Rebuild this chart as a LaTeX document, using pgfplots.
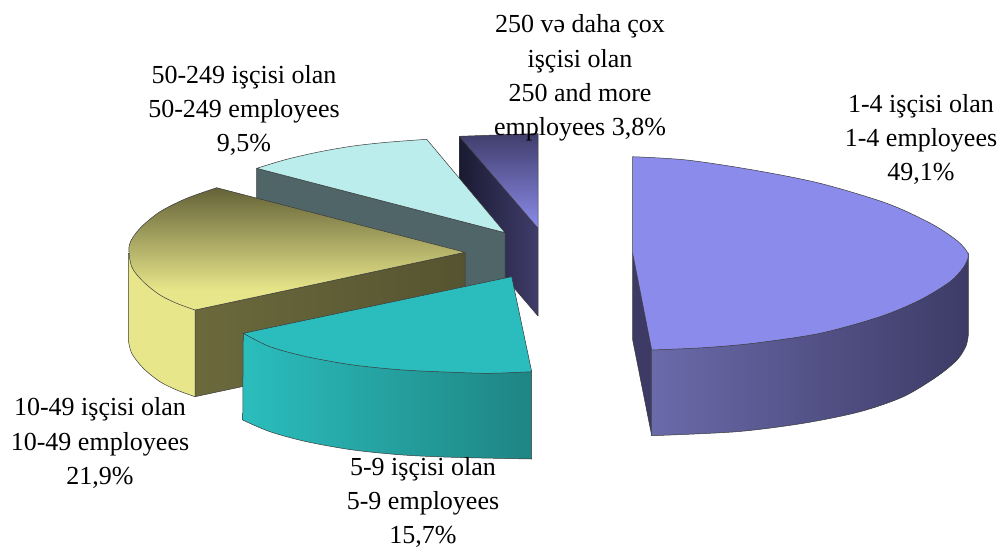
\documentclass[border=0pt]{standalone}
\usepackage{pgfplots}
\pgfplotsset{compat=1.18}
\usepackage{fontspec}
\setmainfont{Liberation Serif}
\definecolor{edge}{HTML}{3A3A3A}
\definecolor{oliveY}{RGB}{232,230,138}
\definecolor{oliveD}{RGB}{100,98,55}
\pgfdeclareverticalshading{olivetop}{100bp}{%
  color(0bp)=(oliveY);
  color(25bp)=(oliveY);
  color(33bp)=(oliveY);
  color(75bp)=(oliveD);
  color(100bp)=(oliveD)}
\begin{document}
\begin{tikzpicture}
\begin{axis}[
  at={(0pt,0pt)}, anchor=south west,
  scale only axis, width=1002pt, height=550pt,
  xmin=0, xmax=1002, ymin=0, ymax=550, y dir=reverse,
  hide axis, clip=false,
  every axis plot/.append style={draw=edge, line width=0.5pt, mark=none, line join=round},
]
% 250+ slice
\addplot[left color={rgb,255:red,26;green,26;blue,50}, right color={rgb,255:red,64;green,61;blue,107}]
  coordinates {(459.3,136.3)(538,228.3)(538,316)(459.3,224)} -- cycle;
\addplot[top color={rgb,255:red,64;green,61;blue,107}, bottom color={rgb,255:red,140;green,140;blue,235}]
  coordinates {(459.3,136.3)(538,133.5)(538,228.3)} -- cycle;
% 50-249 slice
\addplot[fill={rgb,255:red,79;green,101;blue,104}]
  coordinates {(256.7,168.3)(505,232.7)(505,320)(256.7,256)} -- cycle;
\addplot[smooth, fill={rgb,255:red,186;green,237;blue,235}]
  coordinates {(256.7,168.3)(286.7,159.3)(320,151.7)(353.3,146)(386.7,142.3)(426.7,139.3)} -- (axis cs:505,232.7) -- cycle;
% 10-49 slice
\addplot[left color={rgb,255:red,107;green,105;blue,60}, right color={rgb,255:red,85;green,84;blue,48}]
  coordinates {(195,310)(465,252.3)(465,339)(195,396.7)} -- cycle;
\addplot[smooth, fill={rgb,255:red,232;green,230;blue,138}]
  coordinates {(128.3,340)(131.7,353.3)(143.3,368.3)(160,381.7)(176.7,390)(195,396.7)} -- (axis cs:195,310) -- (axis cs:128.3,253.3) -- cycle;
\addplot[smooth, shade, shading=olivetop]
  coordinates {(216.7,187.7)(186.7,198.3)(160,211.7)(140,228.3)(129.3,245)(131.7,266.7)(143.3,281.7)(160,295)(176.7,303.3)(195,310)} -- (axis cs:465,252.3) -- cycle;
% 5-9 slice
\addplot[smooth, left color={rgb,255:red,43;green,189;blue,189}, middle color={rgb,255:red,42;green,176;blue,176}, right color={rgb,255:red,30;green,133;blue,131}]
  coordinates {(242.7,420)(270,431.7)(306.7,441.7)(353.3,450)(403.3,455)(453.3,457.3)(531.7,459)} -- (axis cs:531.7,371.7) -- (axis cs:243.3,333.3) -- cycle;
\addplot[smooth, fill={rgb,255:red,43;green,189;blue,189}]
  coordinates {(243.3,333.3)(270,346.7)(306.7,356.7)(353.3,365)(403.3,370)(453.3,372.3)(490,373.3)(531.7,371.7)} -- (axis cs:511.7,276.7) -- cycle;
% 1-4 slice
\addplot[fill={rgb,255:red,61;green,59;blue,102}]
  coordinates {(632.7,253.3)(651.7,350)(651.7,435.7)(632.7,340)} -- cycle;
\addplot[smooth, left color={rgb,255:red,106;green,106;blue,170}, middle color={rgb,255:red,61;green,59;blue,102}, right color={rgb,255:red,61;green,59;blue,102}]
  coordinates {(651.7,435.7)(736.7,431.7)(803.3,423.3)(860,411.7)(903.3,396.7)(936.7,376.7)(957,360)(966,346)(968.3,335)} -- (axis cs:968.3,253) -- (axis cs:651.7,350) -- cycle;
\addplot[smooth, fill={rgb,255:red,139;green,139;blue,235}]
  coordinates {(632.7,156.7)(686.7,160)(753.3,170)(820,183.3)(886.7,203.3)(930,223)(955,239)(966,250)(968.3,257)(963,268)(950,281.7)(920,300)(880,316.7)(820,333.3)(753.3,343.3)(703.3,347.7)(651.7,350)} -- (axis cs:632.7,253.3) -- cycle;
% labels
\tikzset{lab/.style={align=center, inner sep=0pt, font=\fontsize{26}{34.3}\selectfont, text=black}}
\node[lab] at (axis cs:921,139.5) {1-4 işçisi olan\\1-4 employees\\49,1\%};
\node[lab] at (axis cs:580,78) {250 və daha çox\\işçisi olan\\250 and more\\employees 3,8\%};
\node[lab] at (axis cs:244,110.5) {50-249 işçisi olan\\50-249 employees\\9,5\%};
\node[lab] at (axis cs:100,443) {10-49 işçisi olan\\10-49 employees\\21,9\%};
\node[lab] at (axis cs:423,502.5) {5-9 işçisi olan\\5-9 employees\\15,7\%};
\end{axis}
\pgfresetboundingbox
\path[use as bounding box] (0pt,0pt) rectangle (1002pt,550pt);
\end{tikzpicture}
\end{document}
